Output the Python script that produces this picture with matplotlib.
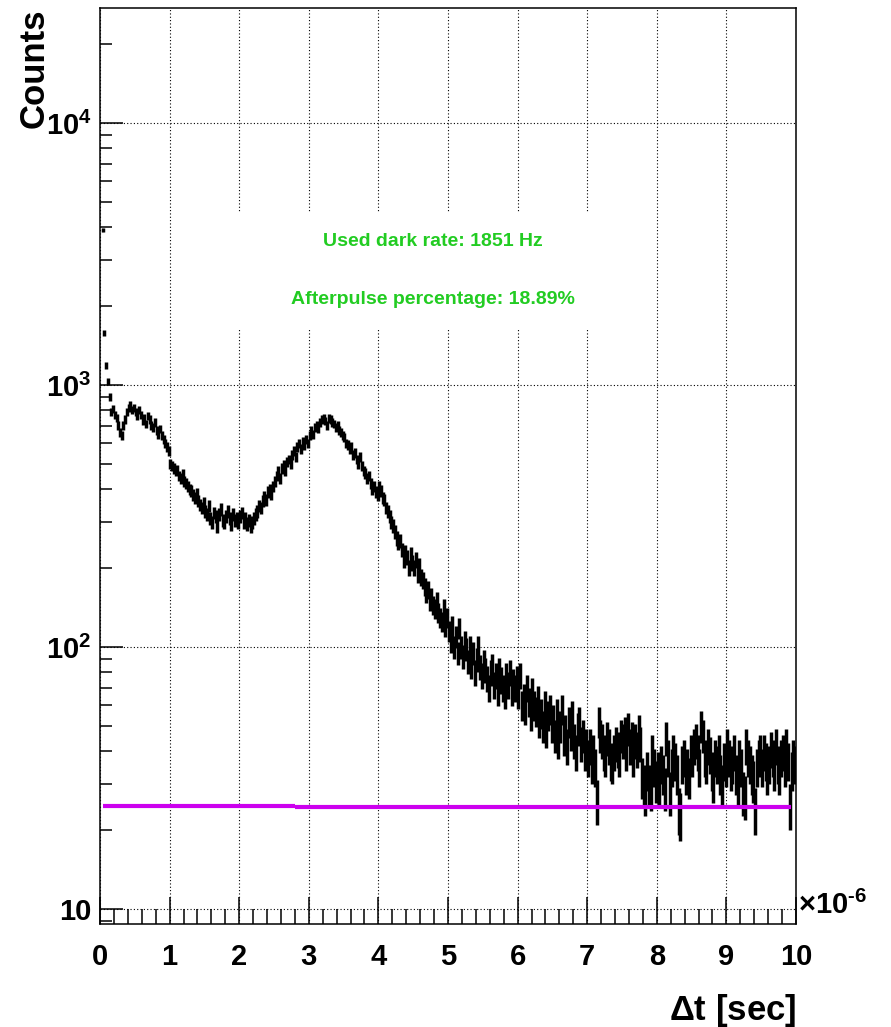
import numpy as np
import matplotlib
matplotlib.use('Agg')
import matplotlib.pyplot as plt
from matplotlib.patches import Rectangle
from matplotlib.ticker import FixedLocator, FixedFormatter, LogLocator, MultipleLocator, NullFormatter

plt.rcParams['font.family'] = ['Liberation Sans', 'DejaVu Sans']
plt.rcParams['font.weight'] = 'bold'
plt.rcParams['mathtext.fontset'] = 'custom'
plt.rcParams['mathtext.rm'] = 'Liberation Sans:bold'
plt.rcParams['mathtext.bf'] = 'Liberation Sans:bold'
plt.rcParams['mathtext.it'] = 'Liberation Sans:bold:italic'

# delta-t histogram, 400 bins over 0..10 us (counts)
t_lo, t_hi = 0.0, 10.0
counts = [
    0, 3900, 1580, 1190, 1030, 900, 790, 810, 770, 750, 700, 660, 640, 700, 740, 790, 820, 840, 800, 820,
    790, 760, 800, 770, 730, 750, 710, 760, 740, 700, 690, 720, 670, 650, 680, 640, 620, 600, 580, 560,
    500, 490, 480, 470, 475, 450, 440, 455, 430, 420, 410, 400, 395, 380, 370, 385, 360, 350, 340, 355,
    330, 320, 345, 310, 300, 325, 315, 290, 320, 335, 305, 300, 315, 330, 310, 295, 320, 305, 310, 300,
    315, 325, 300, 310, 295, 305, 290, 300, 310, 320, 330, 345, 340, 360, 375, 365, 390, 400, 385, 410,
    430, 450, 470, 440, 480, 495, 470, 510, 520, 500, 540, 560, 530, 580, 600, 570, 610, 590, 620, 600,
    640, 670, 650, 690, 700, 680, 720, 740, 750, 730, 700, 745, 740, 720, 710, 690, 700, 670, 660, 640,
    630, 600, 590, 570, 580, 540, 550, 520, 500, 530, 490, 470, 460, 440, 450, 420, 400, 410, 390, 380,
    410, 395, 370, 365, 340, 330, 315, 300, 290, 275, 260, 250, 255, 235, 215, 230, 220, 200, 225, 210,
    200, 215, 190, 205, 185, 180, 170, 160, 165, 150, 155, 145, 140, 150, 135, 130, 125, 140, 120, 130,
    115, 105, 120, 100, 110, 95, 118, 100, 92, 105, 98, 88, 100, 85, 95, 80, 90, 100, 84, 78,
    88, 82, 76, 70, 80, 85, 72, 78, 68, 82, 75, 70, 66, 78, 72, 80, 68, 74, 70, 76,
    66, 78, 60, 64, 58, 70, 62, 55, 68, 60, 57, 63, 52, 56, 50, 60, 48, 55, 58, 50,
    53, 46, 56, 44, 50, 58, 45, 48, 42, 52, 47, 55, 44, 40, 49, 52, 43, 46, 40, 42,
    38, 42, 36, 40, 35, 26, 52, 46, 44, 40, 38, 45, 42, 37, 36, 40, 43, 41, 38, 46,
    44, 47, 40, 49, 42, 45, 38, 44, 41, 48, 43, 32, 30, 28, 34, 30, 29, 40, 35, 31,
    34, 30, 36, 33, 29, 45, 38, 28, 35, 40, 37, 33, 24, 23, 36, 38, 33, 35, 32, 40,
    38, 42, 44, 40, 35, 50, 46, 38, 36, 42, 39, 34, 31, 38, 36, 40, 33, 30, 37, 35,
    42, 38, 34, 36, 40, 33, 30, 38, 35, 28, 27, 42, 38, 36, 33, 31, 24, 35, 38, 40,
    35, 40, 37, 33, 36, 41, 38, 34, 42, 36, 33, 38, 40, 35, 42, 37, 25, 34, 38, 36,
]

# dark-rate level (magenta), piecewise
dark_edges = [0.05, 2.8, 9.93]
dark_level = [24.8, 24.6]

dark_rate_hz = 1851
afterpulse_pct = 18.89

y_ticks = [10, 100, 1000, 10000]
y_ticklabels = ['10', r'$\mathbf{10^{2}}$', r'$\mathbf{10^{3}}$', r'$\mathbf{10^{4}}$']
x_ticks = [0, 1, 2, 3, 4, 5, 6, 7, 8, 9, 10]

counts = np.array(counts, dtype=float)
edges = np.linspace(t_lo, t_hi, len(counts) + 1)
centers = 0.5 * (edges[:-1] + edges[1:])
half_w = 0.5 * (edges[1] - edges[0])
filled = counts > 0

fig = plt.figure(figsize=(8.91, 10.27), dpi=100)
ax = fig.add_axes([100/891, 1 - 924/1027, 696/891, 916/1027])
ax.set_yscale('log')
ax.set_xlim(t_lo, t_hi)
ax.set_ylim(8.76, 27480)
ax.set_axisbelow(True)

ax.grid(True, which='major', linestyle=(0, (1, 2)), color='k', linewidth=0.8)

# white pave behind the labels hides the grid
ax.add_patch(Rectangle((1.6, 1622), 6.3, 4530 - 1622, facecolor='white', edgecolor='none', zorder=1))

ax.errorbar(centers[filled], counts[filled], xerr=half_w, yerr=np.sqrt(counts[filled]),
            fmt='none', ecolor='k', elinewidth=2.5, capsize=0, zorder=3)

ax.hlines(dark_level, dark_edges[:-1], dark_edges[1:], color='#cc00ee', linewidth=3, zorder=4)

ax.text(4.78, 3515, 'Used dark rate: %d Hz' % dark_rate_hz, color='#22cc22',
        fontsize=14, ha='center', va='center', zorder=5)
ax.text(4.78, 2128, 'Afterpulse percentage: %.2f%%' % afterpulse_pct, color='#22cc22',
        fontsize=14, ha='center', va='center', zorder=5)

ax.yaxis.set_major_locator(FixedLocator(y_ticks))
ax.yaxis.set_major_formatter(FixedFormatter(y_ticklabels))
ax.yaxis.set_minor_locator(LogLocator(base=10, subs=np.arange(2, 10)))
ax.yaxis.set_minor_formatter(NullFormatter())
ax.xaxis.set_major_locator(FixedLocator(x_ticks))
ax.xaxis.set_minor_locator(MultipleLocator(0.2))

ax.tick_params(axis='both', which='both', direction='in', top=False, right=False, width=1.1)
ax.tick_params(axis='y', which='major', length=16.5, pad=6, labelsize=21)
ax.tick_params(axis='y', which='minor', length=8.5)
ax.tick_params(axis='x', which='major', length=19.5, pad=14, labelsize=21)
ax.tick_params(axis='x', which='minor', length=10.8)
for lab in ax.get_xticklabels() + ax.get_yticklabels():
    lab.set_fontweight('bold')
for sp in ax.spines.values():
    sp.set_linewidth(1.1)

ax.text(1.003, 0.02, r'$\times\mathbf{10^{\text{-}6}}$', transform=ax.transAxes,
        fontsize=21, ha='left', va='center')

fig.text(34/891, 1 - 8/1027, 'Counts', rotation=90, fontsize=25, ha='center', va='top')
fig.text(796/891, 1 - 1020/1027, r'$\Delta$t [sec]', fontsize=25, ha='right', va='baseline')

fig.savefig('out.png', dpi=100)
